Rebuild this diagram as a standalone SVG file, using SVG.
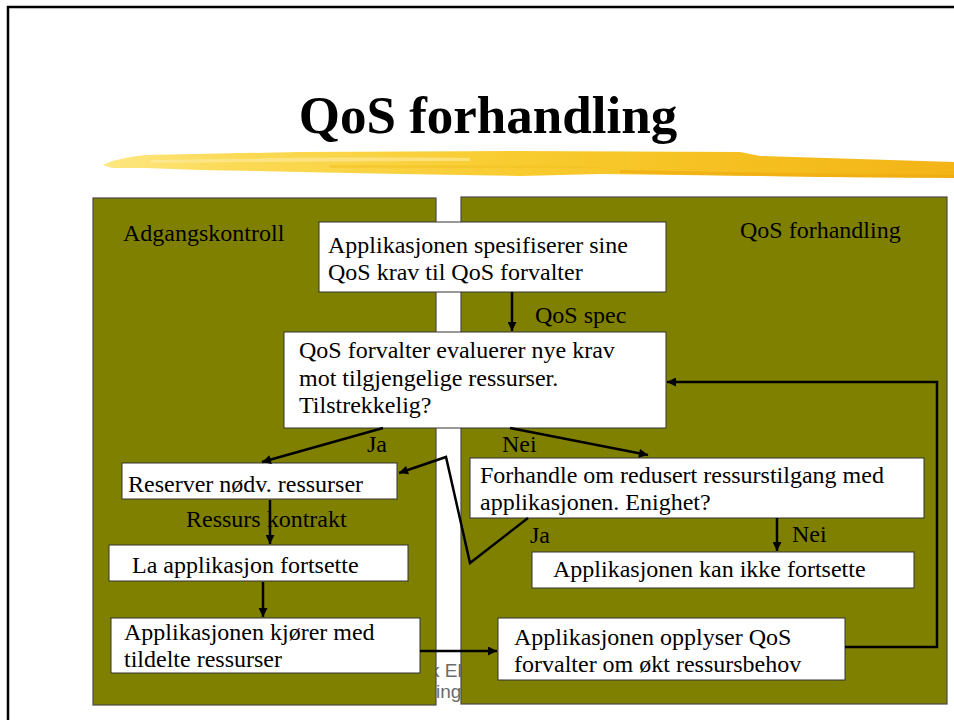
<svg xmlns="http://www.w3.org/2000/svg" width="954" height="720" viewBox="0 0 954 720">
<style>
.t{font-family:"Liberation Serif","Times New Roman",serif;font-size:24px;fill:#000}
.box{fill:#fff;stroke:#333;stroke-width:1}
.panel{fill:#808000;stroke:#4a4a4a;stroke-width:1.2}
.c{fill:none;stroke:#000;stroke-width:2.5;stroke-linejoin:miter}
.foot{font-family:"Liberation Sans",Arial,sans-serif;font-size:19px;fill:#6b6b6b}
</style>
<defs>
<marker id="ah" viewBox="0 0 10 10" refX="10" refY="5" markerWidth="11" markerHeight="9" markerUnits="userSpaceOnUse" orient="auto">
<path d="M0,0 L10,5 L0,10 z" fill="#000"/>
</marker>
<linearGradient id="gold" x1="0" y1="0" x2="1" y2="0">
<stop offset="0" stop-color="#FDE783"/>
<stop offset="0.15" stop-color="#FBDA55"/>
<stop offset="0.5" stop-color="#F8CB2E"/>
<stop offset="0.8" stop-color="#F5BD1E"/>
<stop offset="1" stop-color="#F3B418"/>
</linearGradient>
</defs>
<rect width="954" height="720" fill="#fff"/>
<path d="M8,720 L8,7 L954,7" fill="none" stroke="#000" stroke-width="2.5"/>
<g id="title">
<text x="488" y="133" text-anchor="middle" style="font-family:'Liberation Serif','Times New Roman',serif;font-size:53px;font-weight:bold">QoS forhandling</text>
<path d="M103,165 L112,161 C125,158 135,156 145,155 L300,152 L520,151 L740,152 L760,156 L954,162 L954,178 L820,177 L760,176 L600,174 L520,176 L400,174 L300,172 L200,170 L145,168 L112,168 Z" fill="url(#gold)"/>
<path d="M150,160 C250,158 380,157 470,158 L470,161 C380,161 250,162 150,163 Z" fill="#FDEBA3" opacity="0.6"/>
<path d="M330,165 C420,165 520,166 600,166 L600,168 C520,168 420,168 330,168 Z" fill="#F2C020" opacity="0.5"/>
<path d="M620,170 C720,172 840,174 954,175 L954,178 C840,177 720,176 620,173 Z" fill="#EFA90E" opacity="0.6"/>
</g>
<g id="footer">
<text class="foot" x="430" y="677">k El</text>
<text class="foot" x="436" y="698">ing</text>
</g>
<g id="panel-left">
<rect class="panel" x="93" y="198" width="343" height="507"/>
<text class="t" x="123" y="241">Adgangskontroll</text>
</g>
<g id="panel-right">
<rect class="panel" x="461" y="197" width="486" height="507"/>
<text class="t" x="740" y="238">QoS forhandling</text>
</g>
<g id="n-spec">
<rect class="box" x="319" y="222" width="347" height="70"/>
<text class="t" x="328" y="253">Applikasjonen spesifiserer sine</text>
<text class="t" x="328" y="280">QoS krav til QoS forvalter</text>
</g>
<g id="n-eval">
<rect class="box" x="284" y="332" width="382" height="96"/>
<text class="t" x="299" y="358">QoS forvalter evaluerer nye krav</text>
<text class="t" x="299" y="386">mot tilgjengelige ressurser.</text>
<text class="t" x="299" y="413">Tilstrekkelig?</text>
</g>
<g id="n-reserve">
<rect class="box" x="122" y="463" width="275" height="36"/>
<text class="t" x="128" y="492">Reserver nødv. ressurser</text>
</g>
<g id="n-continue">
<rect class="box" x="109" y="545" width="299" height="36"/>
<text class="t" x="132" y="573">La applikasjon fortsette</text>
</g>
<g id="n-run">
<rect class="box" x="111" y="618" width="309" height="55"/>
<text class="t" x="124" y="640">Applikasjonen kjører med</text>
<text class="t" x="124" y="667">tildelte ressurser</text>
</g>
<g id="n-negotiate">
<rect class="box" x="470" y="458" width="454" height="60"/>
<text class="t" x="480" y="483">Forhandle om redusert ressurstilgang med</text>
<text class="t" x="480" y="510">applikasjonen. Enighet?</text>
</g>
<g id="n-stop">
<rect class="box" x="532" y="552" width="382" height="36"/>
<text class="t" x="553" y="577">Applikasjonen kan ikke fortsette</text>
</g>
<g id="n-inform">
<rect class="box" x="498" y="618" width="347" height="62"/>
<text class="t" x="514" y="645">Applikasjonen opplyser QoS</text>
<text class="t" x="514" y="672">forvalter om økt ressursbehov</text>
</g>
<g id="connectors">
<path class="c" d="M512,292 L512,331" marker-end="url(#ah)"/>
<path class="c" d="M383,428 L262,462" marker-end="url(#ah)"/>
<path class="c" d="M510,428 L648,455" marker-end="url(#ah)"/>
<path class="c" d="M528,518 L470,563 L446,457 L399,473" marker-end="url(#ah)"/>
<path class="c" d="M270,500 L270,544" marker-end="url(#ah)"/>
<path class="c" d="M263,582 L263,617" marker-end="url(#ah)"/>
<path class="c" d="M420,651 L497,651" marker-end="url(#ah)"/>
<path class="c" d="M845,647 L937,647 L937,382 L667,382" marker-end="url(#ah)"/>
<path class="c" d="M777,518 L777,551" marker-end="url(#ah)"/>
</g>
<g id="labels">
<text class="t" x="535" y="323">QoS spec</text>
<text class="t" x="367" y="452">Ja</text>
<text class="t" x="502" y="452">Nei</text>
<text class="t" x="186" y="527">Ressurs kontrakt</text>
<text class="t" x="530" y="543">Ja</text>
<text class="t" x="792" y="542">Nei</text>
</g>
</svg>
